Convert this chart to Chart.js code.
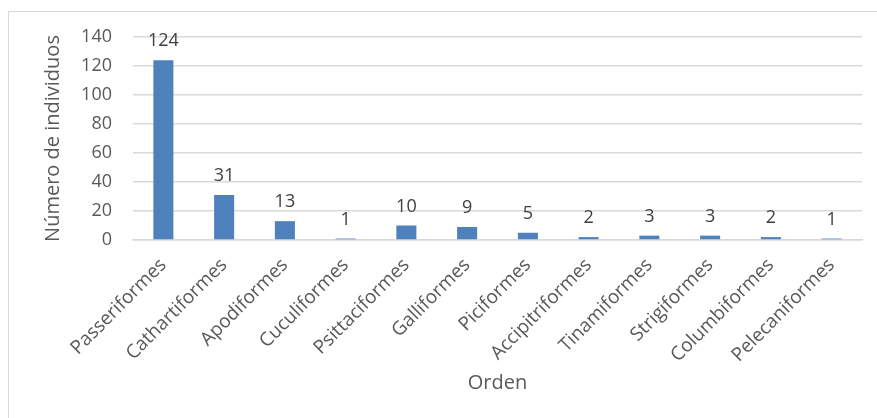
<!DOCTYPE html>
<html>
<head>
<meta charset="utf-8">
<script src="https://cdn.jsdelivr.net/npm/chart.js@4"></script>
<style>
  html, body { margin:0; padding:0; background:#fff; overflow:hidden; }
  #wrap { position:relative; width:877px; height:418px; }
  #frame { position:absolute; left:8px; top:11px; width:900px; height:500px; border:1px solid #d9d9d9; box-sizing:border-box; }
  canvas { position:absolute; left:0; top:0; }
</style>
</head>
<body>
<div id="wrap">
  <div id="frame"></div>
  <canvas id="chart" width="877" height="418"></canvas>
</div>
<script>
// Orders and individual counts
const ordenes = ['Passeriformes','Cathartiformes','Apodiformes','Cuculiformes','Psittaciformes','Galliformes',
  'Piciformes','Accipitriformes','Tinamiformes','Strigiformes','Columbiformes','Pelecaniformes'];
const individuos = [124, 31, 13, 1, 10, 9, 5, 2, 3, 3, 2, 1];
const yMax = 140;
const yStep = 20;

const gris = '#595959';
const fuente = '"Open Sans", sans-serif';

// value above each bar
const barLabels = {
  id: 'barLabels',
  afterDatasetsDraw(chart){
    const ctx = chart.ctx;
    const meta = chart.getDatasetMeta(0);
    ctx.save();
    ctx.font = '18px ' + fuente;
    ctx.fillStyle = '#404040';
    ctx.textAlign = 'center';
    ctx.textBaseline = 'alphabetic';
    meta.data.forEach((bar, i) => {
      ctx.fillText(String(individuos[i]), bar.x, bar.y - 14);
    });
    ctx.restore();
  }
};

const ctx = document.getElementById('chart').getContext('2d');
new Chart(ctx, {
  type: 'bar',
  data: {
    labels: ordenes,
    datasets: [{
      data: individuos,
      backgroundColor: '#4f81bd',
      borderWidth: 0,
      categoryPercentage: 1,
      barPercentage: 0.33
    }]
  },
  options: {
    responsive: false,
    animation: false,
    layout: { padding: { left: 0, top: 37, right: 15, bottom: 0 } },
    plugins: { legend: { display: false }, tooltip: { enabled: false } },
    scales: {
      x: {
        afterFit(scale){ scale.height = 178; },
        grid: { display: false },
        border: { color: '#d9d9d9', width: 1.5 },
        ticks: { color: gris, font: { family: fuente, size: 19 }, minRotation: 45, maxRotation: 45, padding: 6, autoSkip: false },
        title: { display: true, text: 'Orden', color: gris, font: { family: fuente, size: 20 }, padding: { top: 0, bottom: 23 } }
      },
      y: {
        min: 0, max: yMax,
        afterFit(scale){ scale.width = 133; },
        grid: { color: '#d9d9d9', lineWidth: 1.5, drawTicks: false },
        border: { display: false },
        ticks: { stepSize: yStep, color: gris, font: { family: fuente, size: 18 }, padding: 21 },
        title: { display: true, text: 'Número de individuos', color: gris, font: { family: fuente, size: 20 }, padding: { top: 41, bottom: 0 } }
      }
    }
  },
  plugins: [barLabels]
});
</script>
</body>
</html>
